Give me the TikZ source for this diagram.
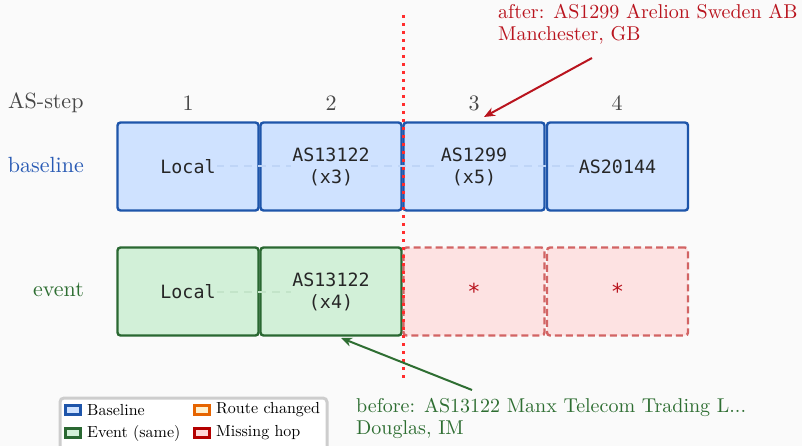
\documentclass[tikz,border=0pt]{standalone}
\usepackage{fontspec}
\setmonofont{DejaVu Sans Mono}
\newfontfamily\cmten{lmroman10-regular.otf}[Ligatures=TeX]
\usetikzlibrary{arrows.meta}
\definecolor{bg}{RGB}{250,250,250}
\definecolor{bfill}{RGB}{207,226,255}
\definecolor{bedge}{RGB}{30,85,170}
\definecolor{efill}{RGB}{210,240,216}
\definecolor{eedge}{RGB}{42,104,50}
\definecolor{mfill}{RGB}{253,226,226}
\definecolor{medge}{RGB}{210,100,100}
\definecolor{redtxt}{RGB}{185,20,30}
\definecolor{greentxt}{RGB}{46,110,50}
\definecolor{bluetxt}{RGB}{40,90,180}
\definecolor{greytxt}{RGB}{70,70,70}
\definecolor{vline}{RGB}{255,45,45}
\definecolor{oedge}{RGB}{230,100,0}
\definecolor{ofill}{RGB}{255,240,205}
\definecolor{redge}{RGB}{180,0,0}
\definecolor{rfill}{RGB}{255,215,215}
\definecolor{legframe}{RGB}{205,205,205}
\begin{document}
\begin{tikzpicture}[x=1pt,y=-1pt,
  hopbox/.style={draw, rounded corners=3pt, minimum width=141pt, minimum height=88pt, line width=2.4pt, inner sep=0pt},
  basebox/.style={hopbox, fill=bfill, draw=bedge},
  evbox/.style={hopbox, fill=efill, draw=eedge},
  missbox/.style={hopbox, fill=mfill, draw=medge, dash pattern=on 7pt off 4pt},
  hoptext/.style={font=\fontsize{18.3}{22}\selectfont\ttfamily, align=center, inner sep=1pt, text=black!85},
  serif/.style={font=\fontsize{22}{22}\selectfont\cmten},
  annot/.style={font=\fontsize{20}{22}\selectfont\cmten, anchor=north west, align=left, inner sep=0pt},
  legtext/.style={font=\fontsize{16}{18}\selectfont\cmten, anchor=west, inner sep=0pt},
  patch/.style={draw, line width=2.2pt, minimum width=15pt, minimum height=9pt, inner sep=0pt},
  rowline/.style={line width=2pt, dash pattern=on 8pt off 6pt},
]
\fill[bg] (0,0) rectangle (802,446);
\useasboundingbox (0,0) rectangle (802,446);

% header
\node[serif, text=greytxt, anchor=west, inner sep=0pt] (hdr) at (8,103) {AS-step};
\node[serif, text=greytxt, inner sep=0pt] (s1) at (188,103) {1};
\node[serif, text=greytxt, inner sep=0pt] (s2) at (331,103) {2};
\node[serif, text=greytxt, inner sep=0pt] (s3) at (474,103) {3};
\node[serif, text=greytxt, inner sep=0pt] (s4) at (617,103) {4};

\node[serif, text=bluetxt, anchor=east, inner sep=0pt] (rb) at (84,165) {baseline};
\node[serif, text=greentxt, anchor=east, inner sep=0pt] (re) at (84,290) {event};

% baseline row
\node[basebox] (b1) at (188,166.5) {};
\node[basebox] (b2) at (331,166.5) {};
\node[basebox] (b3) at (474,166.5) {};
\node[basebox] (b4) at (617.5,166.5) {};
\draw[rowline, draw=bedge!9!bfill] (b1.center) -- (b4.center);
\node[hoptext, fill=bfill] (tb1) at (b1.center) {Local};
\node[hoptext, fill=bfill] (tb2) at (b2.center) {AS13122\\(x3)};
\node[hoptext, fill=bfill] (tb3) at (b3.center) {AS1299\\(x5)};
\node[hoptext, fill=bfill] (tb4) at (b4.center) {AS20144};

% event row
\node[evbox] (e1) at (188,291.5) {};
\node[evbox] (e2) at (331,291.5) {};
\node[missbox] (e3) at (474,291.5) {};
\node[missbox] (e4) at (617.5,291.5) {};
\draw[rowline, draw=eedge!9!efill] (e1.center) -- (e2.center);
\node[hoptext, fill=efill] (te1) at (e1.center) {Local};
\node[hoptext, fill=efill] (te2) at (e2.center) {AS13122\\(x4)};
\node[hoptext, text=redtxt, font=\fontsize{22}{22}\selectfont\ttfamily] (te3) at (e3.center) {*};
\node[hoptext, text=redtxt, font=\fontsize{22}{22}\selectfont\ttfamily] (te4) at (e4.center) {*};

% divergence line
\coordinate (vtop) at (403,15);
\coordinate (vbot) at (403,378);
\draw[vline, line width=3pt, dash pattern=on 3pt off 5pt] (vtop) -- (vbot);

% annotations
\node[annot, text=redtxt] (after) at (498,4) {after: AS1299 Arelion Sweden AB\\Manchester, GB};
\coordinate (aS) at (592,58);
\coordinate (aE) at (484,117);
\draw[redtxt, line width=2pt, -{Stealth[length=11pt,width=9pt]}] (aS) -- (aE);

\node[annot, text=greentxt] (before) at (356,398) {before: AS13122 Manx Telecom Trading L...\\Douglas, IM};
\coordinate (bS) at (472,390);
\coordinate (bE) at (341,338);
\draw[greentxt, line width=2pt, -{Stealth[length=11pt,width=9pt]}] (bS) -- (bE);

% legend
\draw[legframe, line width=3pt, fill=white, rounded corners=4pt] (60,398) rectangle (327,460);
\node[patch, draw=bedge, fill=bfill] (l1) at (73,410) {};
\node[legtext] (l1t) at (87,410) {Baseline};
\node[patch, draw=eedge, fill=efill] (l2) at (73,433) {};
\node[legtext] (l2t) at (87,433) {Event (same)};
\node[patch, draw=oedge, fill=ofill] (l3) at (202,410) {};
\node[legtext] (l3t) at (216,410) {Route changed};
\node[patch, draw=redge, fill=rfill] (l4) at (202,433) {};
\node[legtext] (l4t) at (216,433) {Missing hop};
\end{tikzpicture}
\end{document}
